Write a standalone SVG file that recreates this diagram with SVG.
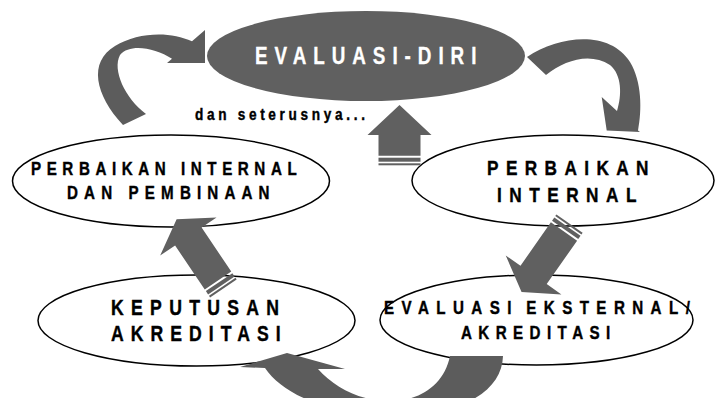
<svg xmlns="http://www.w3.org/2000/svg" width="716" height="398" viewBox="0 0 716 398">
  <defs>
    <style>
      .node { fill: #ffffff; stroke: #000000; stroke-width: 1.5; }
      .dark { fill: #606060; }
      .arrow { fill: #5c5c5c; }
      .lbl { font-family: "Liberation Sans", Arial, sans-serif; font-weight: bold; fill: #000000; stroke: #000000; stroke-width: 0.4; }
      .wlbl { font-family: "Liberation Sans", Arial, sans-serif; font-weight: bold; fill: #ffffff; stroke: #ffffff; stroke-width: 0.3; }
    </style>
    <g id="diagArrow">
      <polygon points="0,-16 53,-16 53,-34 74,0 53,34 53,16 0,16"/>
      <rect x="-6" y="-16" width="4" height="32"/>
      <rect x="-9.6" y="-16" width="2" height="32"/>
    </g>
  </defs>
  <rect width="716" height="398" fill="#ffffff"/>

  <g id="node-evaluasi-diri">
    <ellipse class="dark" cx="366" cy="56" rx="159" ry="45"/>
    <text class="wlbl" transform="translate(255,64) scale(0.82,1)" font-size="23" textLength="270" lengthAdjust="spacing">EVALUASI-DIRI</text>
  </g>

  <g id="node-perbaikan-pembinaan">
    <ellipse class="node" cx="171" cy="181" rx="158.5" ry="46"/>
    <text class="lbl" transform="translate(31,175) scale(0.82,1)" font-size="18.5" textLength="324" lengthAdjust="spacing">PERBAIKAN INTERNAL</text>
    <text class="lbl" transform="translate(67,198.5) scale(0.82,1)" font-size="18.5" textLength="247" lengthAdjust="spacing">DAN PEMBINAAN</text>
  </g>

  <g id="node-perbaikan-internal">
    <ellipse class="node" cx="563" cy="180.5" rx="151" ry="45.5"/>
    <text class="lbl" transform="translate(487,175) scale(0.82,1)" font-size="21" textLength="197" lengthAdjust="spacing">PERBAIKAN</text>
    <text class="lbl" transform="translate(497,201.5) scale(0.82,1)" font-size="21" textLength="170" lengthAdjust="spacing">INTERNAL</text>
  </g>

  <g id="node-keputusan">
    <ellipse class="node" cx="196.5" cy="320.5" rx="158.5" ry="45.5"/>
    <text class="lbl" transform="translate(111,315) scale(0.82,1)" font-size="21.5" textLength="205" lengthAdjust="spacing">KEPUTUSAN</text>
    <text class="lbl" transform="translate(111,340.5) scale(0.82,1)" font-size="21.5" textLength="207" lengthAdjust="spacing">AKREDITASI</text>
  </g>

  <g id="node-evaluasi-eksternal">
    <ellipse class="node" cx="536.5" cy="320" rx="156.5" ry="45"/>
    <text class="lbl" transform="translate(384,313.5) scale(0.82,1)" font-size="18.5" word-spacing="-5" textLength="373" lengthAdjust="spacing">EVALUASI EKSTERNAL/</text>
    <text class="lbl" transform="translate(461,338.5) scale(0.82,1)" font-size="18.5" textLength="182" lengthAdjust="spacing">AKREDITASI</text>
  </g>

  <g id="connectors">
    <path class="arrow" d="M123,125 C95,95 88,62 115,46 C138,32 170,31 192,41.3 L205,30 L205,63 L167,63 L172,58.7 C155,48 130,43 120,55 C112,70 125,98 146,114 Z"/>
    <path class="arrow" d="M527,57 C560,35 610,30 630,62 C642,82 642,110 638,130.5 L640,132 L606.7,130.5 L601.7,97 L617,111 C622,95 622,75 610,65 C590,52 565,60 546,75 Z"/>
    <path class="arrow" d="M240,367 L287,353 L345,369 L318,369 C335,388 360,401 390,401 C420,401 444,385 450,356 L503,356 C502,390 465,415 395,415 C330,415 283,395 265,368 Z"/>
    <use href="#diagArrow" class="dark" transform="translate(564,231.5) rotate(125)"/>
    <use href="#diagArrow" class="dark" transform="translate(218,280.5) rotate(236)"/>
    <g class="dark">
      <polygon points="399.5,105 431.5,135 420.5,135 420.5,155.7 378.5,155.7 378.5,135 367.5,135"/>
      <rect x="378.5" y="157.7" width="42" height="4"/>
      <rect x="378.5" y="163.3" width="42" height="2"/>
    </g>
  </g>

  <text class="lbl" transform="translate(195,120) scale(0.85,1)" font-size="16" textLength="200" lengthAdjust="spacing">dan seterusnya...</text>
</svg>
